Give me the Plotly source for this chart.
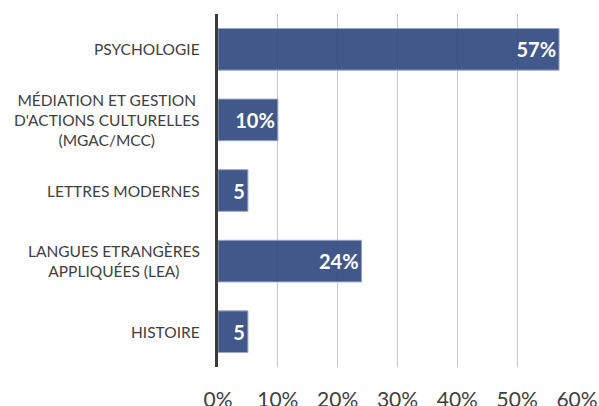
import plotly.graph_objects as go

categories = [
    "PSYCHOLOGIE",
    "MÉDIATION ET GESTION<br>D'ACTIONS CULTURELLES<br>(MGAC/MCC)",
    "LETTRES MODERNES",
    "LANGUES ETRANGÈRES<br>APPLIQUÉES (LEA)",
    "HISTOIRE",
]
values = [57, 10, 5, 24, 5]
value_labels = ["57%", "10%", "5", "24%", "5"]
x_ticks = [0, 10, 20, 30, 40, 50, 60]
x_tick_labels = ["0%", "10%", "20%", "30%", "40%", "50%", "60%"]

FONT = "Lato"
TEXT_COLOR = "#404040"

fig = go.Figure(
    go.Bar(
        y=categories,
        x=values,
        orientation="h",
        text=value_labels,
        textposition="inside",
        insidetextanchor="end",
        constraintext="none",
        textfont=dict(family=FONT, size=20, color="white", weight="bold"),
        marker=dict(color="rgba(45,70,125,0.9)", line=dict(color="#9AA8C8", width=1)),
        hoverinfo="skip",
    )
)

annotations = [
    dict(
        x=0, xref="paper", y=c, yref="y",
        text=c, showarrow=False, xanchor="right", xshift=-16,
        align="center", font=dict(family=FONT, size=15.5, color=TEXT_COLOR),
    )
    for c in categories
]

fig.update_layout(
    template="none",
    width=599, height=406,
    margin=dict(l=218, r=22, t=14, b=39, pad=0),
    paper_bgcolor="white", plot_bgcolor="white",
    showlegend=False,
    bargap=0.41,
    annotations=annotations,
    xaxis=dict(
        range=[0, 60], tickvals=x_ticks, ticktext=x_tick_labels,
        showgrid=True, gridcolor="#C8C8C8", gridwidth=1,
        zeroline=False, showline=False, ticks="",
        tickfont=dict(family=FONT, size=21, color=TEXT_COLOR),
        ticklabelstandoff=18, fixedrange=True, automargin=False,
    ),
    yaxis=dict(
        categoryorder="array", categoryarray=categories[::-1],
        showticklabels=False, showgrid=False, zeroline=False,
        showline=True, linecolor="#3A3A3A", linewidth=3,
        fixedrange=True, automargin=False,
    ),
)

fig.write_html(
    "out.html",
    config={"displayModeBar": False},
    post_script="document.body.style.margin='0';document.body.style.overflow='hidden';",
)
